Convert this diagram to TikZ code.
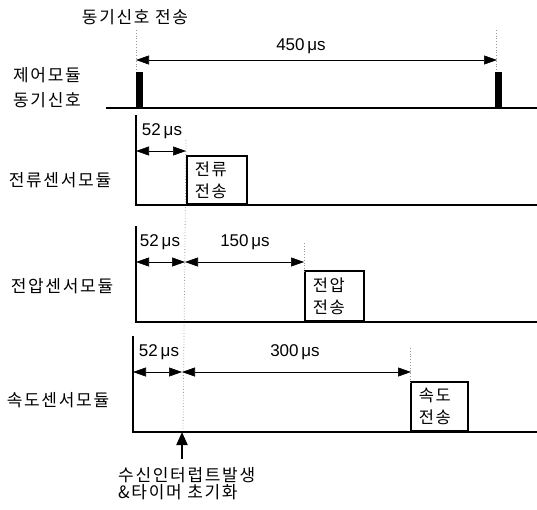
\documentclass[tikz,border=0pt]{standalone}
\usepackage{fontspec}
\newfontfamily\kr[LetterSpace=10]{Noto Sans CJK KR}
\newfontfamily\nm{Liberation Sans}
\usetikzlibrary{arrows.meta}
\begin{document}
\begin{tikzpicture}[x=1pt,y=-1pt,
  lbl/.style={font=\kr\fontsize{17}{25}\selectfont, inner sep=0pt},
  tm/.style={font=\nm\fontsize{17}{18}\selectfont, inner sep=0pt},
  base/.style={line width=1.8pt},
  tip/.tip={Triangle[length=13pt,width=9pt]},
  dim/.style={line width=0.6pt, tip-tip},
  guide/.style={black!40, dotted, line width=0.8pt},
  txbox/.style={draw, line width=1.6pt, anchor=south west, inner xsep=0pt, inner ysep=0pt, align=left, font=\kr\fontsize{16.5}{22}\selectfont},
  pulse/.style={fill=black}]
\useasboundingbox (0,0) rectangle (537,509);

% --- labels
\node[lbl] (tsend) at (135,17) {동기신호 전송};
\node[lbl, align=center] (ctrl) at (47,88) {제어모듈\\동기신호};
\node[lbl] (cur) at (60,180) {전류센서모듈};
\node[lbl] (vol) at (62,286) {전압센서모듈};
\node[lbl] (spd) at (58,400) {속도센서모듈};

% --- control module line
\coordinate (c0) at (106,108);
\coordinate (c1) at (537,108);
\draw[base] (c0) -- (c1);
\fill[pulse] (136,72) rectangle (143,108);
\fill[pulse] (495,72) rectangle (502,108);
\coordinate (g1a) at (136,30); \coordinate (g1b) at (136,70);
\coordinate (g2a) at (496,30); \coordinate (g2b) at (496,70);
\draw[guide] (g1a) -- (g1b);
\draw[guide] (g2a) -- (g2b);
\coordinate (d450a) at (136,60); \coordinate (d450b) at (497,60);
\draw[dim] (d450a) -- (d450b);
\node[tm] (t450) at (301,46) {450\,μs};

% --- common guide line
\coordinate (gma) at (186,140); \coordinate (gmb) at (183,432);
\draw[guide] (gma) -- (gmb);

% --- current sensor
\coordinate (ca) at (136,115); \coordinate (cb) at (136,205); \coordinate (cc) at (537,205);
\draw[base] (ca) -- (cb) -- (cc);
\node[txbox, text width=60pt, minimum height=48pt] (cbox) at (186,205) {\hspace*{8pt}전류\\\hspace*{8pt}전송};
\coordinate (c52a) at (136,151); \coordinate (c52b) at (186,151);
\draw[dim] (c52a) -- (c52b);
\node[tm] (tc52) at (162,131) {52\,μs};

% --- voltage sensor
\coordinate (va) at (136,226); \coordinate (vb) at (136,322); \coordinate (vc) at (537,322);
\draw[base] (va) -- (vb) -- (vc);
\node[txbox, text width=59pt, minimum height=50pt] (vbox) at (304,322) {\hspace*{8pt}전압\\\hspace*{8pt}전송};
\coordinate (v0) at (136,262); \coordinate (v1) at (185,262); \coordinate (v2) at (304,262);
\draw[dim] (v0) -- (v1);
\draw[dim] (v1) -- (v2);
\coordinate (gva) at (304,243); \coordinate (gvb) at (304,272);
\draw[guide] (gva) -- (gvb);
\node[tm] (tv52) at (160,242) {52\,μs};
\node[tm] (tv150) at (245,242) {150\,μs};

% --- speed sensor
\coordinate (sa) at (133,336); \coordinate (sb) at (133,432); \coordinate (sc) at (537,432);
\draw[base] (sa) -- (sb) -- (sc);
\node[txbox, text width=57pt, minimum height=49pt] (sbox) at (410,432) {\hspace*{8pt}속도\\\hspace*{8pt}전송};
\coordinate (s0) at (133,372); \coordinate (s1) at (182,372); \coordinate (s2) at (411,372);
\draw[dim] (s0) -- (s1);
\draw[dim] (s1) -- (s2);
\coordinate (gsa) at (410,348); \coordinate (gsb) at (410,383);
\draw[guide] (gsa) -- (gsb);
\node[tm] (ts52) at (159,352) {52\,μs};
\node[tm] (ts300) at (295,352) {300\,μs};

% --- interrupt
\coordinate (ia) at (182,459); \coordinate (ib) at (182,432);
\draw[line width=2pt, -{Triangle[length=13pt,width=11pt]}] (ia) -- (ib);
\node[lbl, align=left, anchor=north west, font=\kr\fontsize{17}{17}\selectfont] (intr) at (118,467) {수신인터럽트발생\\\&타이머 초기화};
\end{tikzpicture}
\end{document}
